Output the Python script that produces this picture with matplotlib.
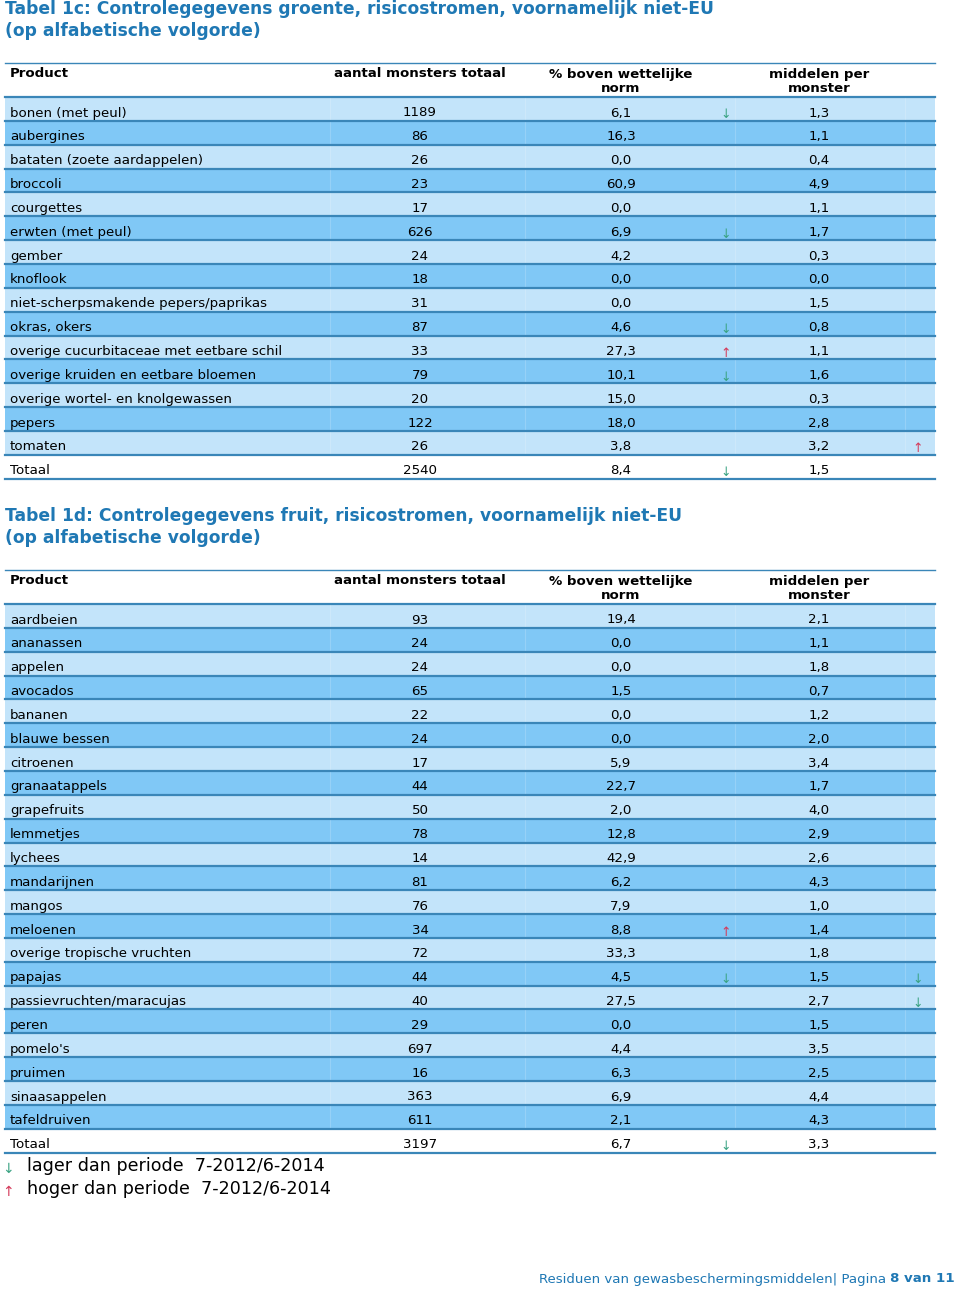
import matplotlib
matplotlib.use("Agg")
import matplotlib.pyplot as plt

# Tabel 1c: groente
veg_products = [
    "bonen (met peul)", "aubergines", "bataten (zoete aardappelen)", "broccoli",
    "courgettes", "erwten (met peul)", "gember", "knoflook",
    "niet-scherpsmakende pepers/paprikas", "okras, okers",
    "overige cucurbitaceae met eetbare schil", "overige kruiden en eetbare bloemen",
    "overige wortel- en knolgewassen", "pepers", "tomaten", "Totaal",
]
veg_samples = [1189, 86, 26, 23, 17, 626, 24, 18, 31, 87, 33, 79, 20, 122, 26, 2540]
veg_pct = [6.1, 16.3, 0.0, 60.9, 0.0, 6.9, 4.2, 0.0, 0.0, 4.6, 27.3, 10.1, 15.0, 18.0, 3.8, 8.4]
veg_pct_trend = ["down", "", "", "", "", "down", "", "", "", "down", "up", "down", "", "", "", "down"]
veg_mid = [1.3, 1.1, 0.4, 4.9, 1.1, 1.7, 0.3, 0.0, 1.5, 0.8, 1.1, 1.6, 0.3, 2.8, 3.2, 1.5]
veg_mid_trend = ["", "", "", "", "", "", "", "", "", "", "", "", "", "", "up", ""]

# Tabel 1d: fruit
fruit_products = [
    "aardbeien", "ananassen", "appelen", "avocados", "bananen", "blauwe bessen",
    "citroenen", "granaatappels", "grapefruits", "lemmetjes", "lychees",
    "mandarijnen", "mangos", "meloenen", "overige tropische vruchten", "papajas",
    "passievruchten/maracujas", "peren", "pomelo's", "pruimen", "sinaasappelen",
    "tafeldruiven", "Totaal",
]
fruit_samples = [93, 24, 24, 65, 22, 24, 17, 44, 50, 78, 14, 81, 76, 34, 72, 44, 40, 29, 697, 16, 363, 611, 3197]
fruit_pct = [19.4, 0.0, 0.0, 1.5, 0.0, 0.0, 5.9, 22.7, 2.0, 12.8, 42.9, 6.2, 7.9, 8.8, 33.3, 4.5, 27.5, 0.0, 4.4, 6.3, 6.9, 2.1, 6.7]
fruit_pct_trend = ["", "", "", "", "", "", "", "", "", "", "", "", "", "up", "", "down", "", "", "", "", "", "", "down"]
fruit_mid = [2.1, 1.1, 1.8, 0.7, 1.2, 2.0, 3.4, 1.7, 4.0, 2.9, 2.6, 4.3, 1.0, 1.4, 1.8, 1.5, 2.7, 1.5, 3.5, 2.5, 4.4, 4.3, 3.3]
fruit_mid_trend = ["", "", "", "", "", "", "", "", "", "", "", "", "", "", "", "down", "down", "", "", "", "", "", ""]

headers = ["Product", "aantal monsters totaal", "% boven wettelijke\nnorm", "middelen per\nmonster"]

BLUE = "#1f78b4"
LIGHT = "#c3e4fa"
DARK = "#80c8f6"
LINE = "#3a86b8"
ARROW = {"down": ("\u2193", "#3aa383"), "up": ("\u2191", "#d43a5a")}

W, H = 960, 1289
fig = plt.figure(figsize=(W / 100, H / 100), dpi=100)
ax = fig.add_axes([0, 0, 1, 1])
ax.set_xlim(0, W)
ax.set_ylim(H, 0)
ax.axis("off")

X0, X1 = 5, 935
ROW_H = 23.85


def fmt(v):
    return f"{v:.1f}".replace(".", ",")


def draw_table(title, title_y, head_top, products, samples, pct, pct_tr, mid, mid_tr):
    ax.text(5, title_y, title, color=BLUE, fontsize=12.3, fontweight="bold",
            va="center", ha="left", linespacing=1.35)
    # header
    ax.plot([X0, X1], [head_top, head_top], color=LINE, lw=1.0)
    ax.text(10, head_top + 10.5, headers[0], fontsize=9.6, fontweight="bold", va="center")
    ax.text(420, head_top + 10.5, headers[1], fontsize=9.6, fontweight="bold", va="center", ha="center")
    ax.text(621, head_top + 18.5, headers[2], fontsize=9.6, fontweight="bold", va="center",
            ha="center", linespacing=1.1)
    ax.text(819, head_top + 18.5, headers[3], fontsize=9.6, fontweight="bold", va="center",
            ha="center", linespacing=1.1)
    body_top = head_top + 34
    ax.plot([X0, X1], [body_top, body_top], color=LINE, lw=1.6)
    n = len(products)
    for i in range(n):
        top = body_top + i * ROW_H
        last = i == n - 1
        if not last:
            ax.fill_between([X0, X1], top, top + ROW_H, color=LIGHT if i % 2 == 0 else DARK,
                            lw=0, zorder=0)
            for xv in (330, 525, 735, 905):
                ax.plot([xv, xv], [top, top + ROW_H], color="white", lw=0.8, alpha=0.18, zorder=0.5)
        ax.plot([X0, X1], [top + ROW_H, top + ROW_H], color=LINE, lw=1.6)
        ty = top + 16
        ax.text(10, ty, products[i], fontsize=9.6, va="center", ha="left")
        ax.text(420, ty, str(samples[i]), fontsize=9.6, va="center", ha="center")
        ax.text(621, ty, fmt(pct[i]), fontsize=9.6, va="center", ha="center")
        ax.text(819, ty, fmt(mid[i]), fontsize=9.6, va="center", ha="center")
        if pct_tr[i]:
            ch, col = ARROW[pct_tr[i]]
            ax.text(726, ty + 2, ch, fontsize=9, color=col, va="center", ha="center")
        if mid_tr[i]:
            ch, col = ARROW[mid_tr[i]]
            ax.text(918, ty + 2, ch, fontsize=9, color=col, va="center", ha="center")


draw_table("Tabel 1c: Controlegegevens groente, risicostromen, voornamelijk niet-EU\n(op alfabetische volgorde)",
           20, 63, veg_products, veg_samples, veg_pct, veg_pct_trend, veg_mid, veg_mid_trend)
draw_table("Tabel 1d: Controlegegevens fruit, risicostromen, voornamelijk niet-EU\n(op alfabetische volgorde)",
           527, 570, fruit_products, fruit_samples, fruit_pct, fruit_pct_trend, fruit_mid, fruit_mid_trend)

# legend
ax.text(8, 1169, ARROW["down"][0], color=ARROW["down"][1], fontsize=10, va="center", ha="center")
ax.text(27, 1166, "lager dan periode  7-2012/6-2014", fontsize=12.6, va="center", ha="left")
ax.text(8, 1192, ARROW["up"][0], color=ARROW["up"][1], fontsize=10, va="center", ha="center")
ax.text(27, 1189, "hoger dan periode  7-2012/6-2014", fontsize=12.6, va="center", ha="left")

# footer
bold = ax.text(955, 1279, "8 van 11", fontsize=9.6, fontweight="bold", color=BLUE,
               va="center", ha="right")
fig.canvas.draw()
bb = bold.get_window_extent(fig.canvas.get_renderer())
ax.text(bb.x0 - 4, 1279, "Residuen van gewasbeschermingsmiddelen| Pagina", fontsize=9.6,
        color=BLUE, va="center", ha="right")

fig.savefig("out.png", dpi=100)
